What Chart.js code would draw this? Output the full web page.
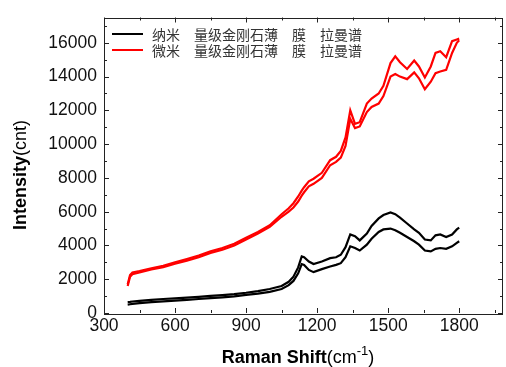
<!DOCTYPE html>
<html>
<head>
<meta charset="utf-8">
<script src="https://cdn.jsdelivr.net/npm/chart.js@4/dist/chart.umd.min.js"></script>
<style>
  html, body { margin: 0; padding: 0; background: #fff; }
  #wrap { width: 506px; height: 367px; position: relative; }
</style>
</head>
<body>
<div id="wrap"><canvas id="c" width="506" height="367"></canvas></div>
<script>
// Raman shift (cm^-1)
const shifts = [400, 410, 420, 450, 500, 550, 600, 650, 700, 750, 800, 850, 900, 950, 1000, 1050, 1080, 1100, 1120, 1135, 1145, 1165, 1185, 1220, 1255, 1280, 1300, 1320, 1340, 1360, 1380, 1410, 1430, 1460, 1480, 1510, 1530, 1550, 1580, 1610, 1630, 1655, 1680, 1700, 1720, 1745, 1770, 1790, 1800];
// 纳米 (black) – two measured traces
const nanoUpper = [650, 660, 680, 720, 780, 830, 870, 910, 960, 1010, 1060, 1120, 1200, 1300, 1420, 1600, 1850, 2150, 2700, 3350, 3300, 3050, 2900, 3050, 3250, 3300, 3450, 3900, 4650, 4550, 4300, 4700, 5150, 5600, 5800, 5950, 5850, 5650, 5300, 4950, 4750, 4350, 4300, 4600, 4650, 4500, 4650, 4950, 5050];
const nanoLower = [500, 520, 540, 580, 640, 690, 730, 780, 830, 880, 930, 990, 1070, 1150, 1250, 1420, 1650, 1900, 2350, 2900, 2850, 2550, 2420, 2600, 2750, 2850, 2950, 3300, 3950, 3850, 3700, 4050, 4400, 4800, 4950, 5000, 4900, 4750, 4500, 4250, 4050, 3700, 3650, 3800, 3850, 3800, 3950, 4150, 4250];
// 微米 (red) – two measured traces
const microUpper = [1700, 2250, 2400, 2480, 2650, 2800, 3000, 3200, 3400, 3650, 3850, 4100, 4450, 4800, 5200, 5850, 6200, 6500, 6900, 7250, 7450, 7800, 7950, 8300, 9050, 9250, 9600, 10400, 12000, 11200, 11300, 12400, 12700, 13000, 13450, 14800, 15200, 14850, 14450, 14950, 14600, 13950, 14600, 15400, 15500, 15150, 16100, 16200, 16250];
const microLower = [1600, 2150, 2300, 2400, 2580, 2720, 2920, 3100, 3300, 3550, 3750, 4000, 4350, 4700, 5100, 5700, 6000, 6250, 6600, 6950, 7150, 7500, 7650, 8000, 8750, 8950, 9200, 9900, 11500, 10950, 11050, 11900, 12200, 12400, 12850, 14000, 14150, 14000, 13850, 14250, 13900, 13250, 13700, 14200, 14300, 14400, 15400, 16000, 16150];

const seriesLabels = ['纳米\u3000量级金刚石薄\u3000膜\u3000拉曼谱', '微米\u3000量级金刚石薄\u3000膜\u3000拉曼谱'];
const seriesColors = ['#000000', '#ff0000'];
const xTickValues = [300, 600, 900, 1200, 1500, 1800];
const yTickValues = [0, 2000, 4000, 6000, 8000, 10000, 12000, 14000, 16000];

const pts = arr => shifts.map((x, i) => ({ x: x, y: arr[i] }));
const mk = (label, arr, color) => ({
  label: label, data: pts(arr), borderColor: color, backgroundColor: color,
  borderWidth: 2.2, pointRadius: 0, tension: 0, fill: false
});

const tickFont = { family: 'Liberation Sans, Arial, sans-serif', size: 17.5 };

const framePlugin = {
  id: 'frame',
  afterDraw(chart) {
    const ctx = chart.ctx, a = chart.chartArea;
    const xs = chart.scales.x, ys = chart.scales.y;
    ctx.save();
    ctx.strokeStyle = '#222';
    ctx.lineWidth = 1;
    ctx.strokeRect(Math.round(a.left) + 0.5, Math.round(a.top) + 0.5, Math.round(a.right - a.left) - 1, Math.round(a.bottom - a.top));
    ctx.beginPath();
    for (let v = 300; v <= xs.max; v += 150) {
      const px = Math.round(xs.getPixelForValue(v)) + 0.5;
      const len = (v % 300 === 0) ? 5 : 3;
      ctx.moveTo(px, a.bottom); ctx.lineTo(px, a.bottom - len);
      ctx.moveTo(px, a.top); ctx.lineTo(px, a.top + len);
    }
    for (let v = 0; v <= ys.max; v += 1000) {
      const py = Math.round(ys.getPixelForValue(v)) + 0.5;
      const len = (v % 2000 === 0) ? 5 : 3;
      ctx.moveTo(a.left, py); ctx.lineTo(a.left + len, py);
      ctx.moveTo(a.right, py); ctx.lineTo(a.right - len, py);
    }
    ctx.stroke();

    // legend
    const lx0 = 112, lx1 = 143, tx = 152, ly = [34, 50];
    ctx.font = '14px "Noto Sans CJK SC", sans-serif';
    ctx.textBaseline = 'middle';
    ctx.textAlign = 'left';
    for (let i = 0; i < 2; i++) {
      ctx.strokeStyle = seriesColors[i];
      ctx.lineWidth = 2;
      ctx.beginPath(); ctx.moveTo(lx0, ly[i]); ctx.lineTo(lx1, ly[i]); ctx.stroke();
      ctx.fillStyle = '#333';
      ctx.fillText(seriesLabels[i], tx, ly[i] + 1);
    }

    // x axis title
    ctx.fillStyle = '#000';
    ctx.textBaseline = 'alphabetic';
    const fB = 'bold 18px "Liberation Sans", Arial, sans-serif';
    const fN = '18px "Liberation Sans", Arial, sans-serif';
    const fS = '13px "Liberation Sans", Arial, sans-serif';
    const parts = [['Raman Shift', fB, 0], ['(cm', fN, 0], ['-1', fS, -8], [')', fN, 0]];
    let total = 0;
    parts.forEach(p => { ctx.font = p[1]; total += ctx.measureText(p[0]).width; });
    let x = 298 - total / 2;
    const base = 363;
    parts.forEach(p => { ctx.font = p[1]; ctx.fillText(p[0], x, base + p[2]); x += ctx.measureText(p[0]).width; });

    // y axis title
    ctx.save();
    ctx.translate(26, 175);
    ctx.rotate(-Math.PI / 2);
    const yparts = [['Intensity', fB], ['(cnt)', fN]];
    let yt = 0;
    yparts.forEach(p => { ctx.font = p[1]; yt += ctx.measureText(p[0]).width; });
    let yx = -yt / 2;
    yparts.forEach(p => { ctx.font = p[1]; ctx.fillText(p[0], yx, 0); yx += ctx.measureText(p[0]).width; });
    ctx.restore();
    ctx.restore();
  }
};

new Chart(document.getElementById('c'), {
  type: 'line',
  data: {
    datasets: [
      mk(seriesLabels[0], nanoUpper, seriesColors[0]),
      mk(seriesLabels[0], nanoLower, seriesColors[0]),
      mk(seriesLabels[1], microUpper, seriesColors[1]),
      mk(seriesLabels[1], microLower, seriesColors[1])
    ]
  },
  options: {
    responsive: false,
    devicePixelRatio: 1,
    animation: false,
    layout: { padding: { top: 14, right: 3, left: 0, bottom: 0 } },
    plugins: { legend: { display: false }, tooltip: { enabled: false } },
    scales: {
      x: {
        type: 'linear', min: 300, max: 1985,
        grid: { display: false, drawTicks: false }, border: { display: false },
        afterBuildTicks: s => { s.ticks = xTickValues.map(v => ({ value: v })); },
        ticks: {
          autoSkip: false, maxRotation: 0, minRotation: 0,
          padding: 3, color: '#111', font: tickFont,
          callback: v => String(v)
        },
        afterFit: s => { s.height = 54; }
      },
      y: {
        type: 'linear', min: 0, max: 17500,
        grid: { display: false, drawTicks: false }, border: { display: false },
        afterBuildTicks: s => { s.ticks = yTickValues.map(v => ({ value: v })); },
        ticks: {
          autoSkip: false,
          padding: 7, color: '#111', font: tickFont,
          callback: v => String(v)
        },
        afterFit: s => { s.width = 104; }
      }
    }
  },
  plugins: [framePlugin]
});
</script>
</body>
</html>
